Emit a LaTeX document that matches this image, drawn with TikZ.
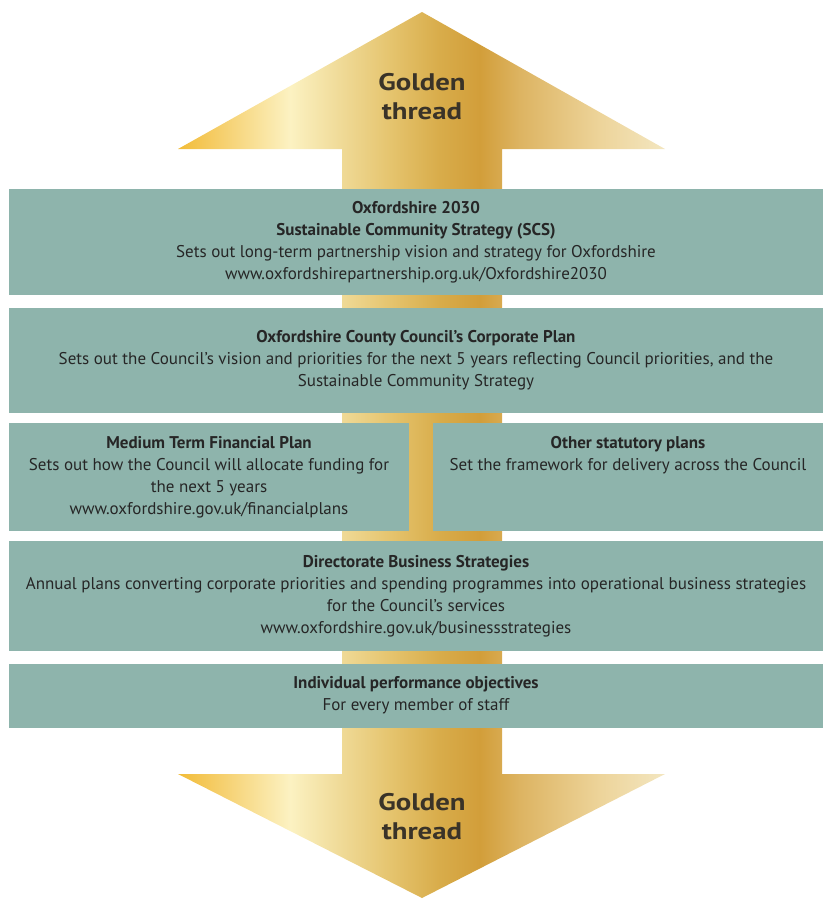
\documentclass[tikz,border=0pt]{standalone}
\usepackage{fontspec}
\setmainfont{PT Sans}
\newfontfamily\threadfont[FakeStretch=1.2]{PT Sans}
\usepackage{tikz}
\usetikzlibrary{calc}
\usepackage{xcolor}

\definecolor{panelfill}{HTML}{8EB4AC}
\definecolor{paneltext}{HTML}{262626}
\definecolor{threadtext}{HTML}{3A3328}
\definecolor{gA}{HTML}{F2BC38}
\definecolor{gB}{HTML}{F6D274}
\definecolor{gC}{HTML}{FCF2C2}
\definecolor{gD}{HTML}{F2DFA0}
\definecolor{gE}{HTML}{E5C46E}
\definecolor{gF}{HTML}{D8AC4A}
\definecolor{gG}{HTML}{D29E3A}
\definecolor{gH}{HTML}{DDB462}
\definecolor{gI}{HTML}{EDD49A}
\definecolor{gJ}{HTML}{F3E6C0}

\pgfdeclarehorizontalshading{goldthread}{100bp}{color(0bp)=(gA); color(25bp)=(gA);
  color(30bp)=(gB); color(36.5bp)=(gC); color(40.6bp)=(gD); color(46.8bp)=(gE);
  color(51.9bp)=(gF); color(56bp)=(gG); color(60.1bp)=(gH); color(68.3bp)=(gI);
  color(75bp)=(gJ); color(100bp)=(gJ)}

\begin{document}
\begin{tikzpicture}[x=1pt,y=-1pt,
panel/.style={fill=panelfill,inner sep=4pt,align=center,text=paneltext,
  font=\fontsize{17}{22}\selectfont},
thread/.style={align=center,text=threadtext,font=\threadfont\bfseries\fontsize{24}{29}\selectfont}]
\useasboundingbox (0,0) rectangle (823,905);

% the golden thread, one arrow pointing both ways
\shade[shading=goldthread] (422,12) -- (665,149) -- (502,149) -- (502,774)
  -- (665,774) -- (422,898) -- (178,774) -- (342,774) -- (342,149)
  -- (178,149) -- cycle;

\node[thread] (up) at (422,97) {Golden\\thread};
\node[thread] (down) at (422,817) {Golden\\thread};

\node[panel,minimum width=814pt,minimum height=106pt] (scs) at (416,242)
  {\textbf{Oxfordshire 2030}\\
   \textbf{Sustainable Community Strategy (SCS)}\\
   Sets out long-term partnership vision and strategy for Oxfordshire\\
   www.oxfordshirepartnership.org.uk/Oxfordshire2030};

\node[panel,minimum width=814pt,minimum height=105pt] (corp) at (416,360.5)
  {\textbf{Oxfordshire County Council’s Corporate Plan}\\
   Sets out the Council’s vision and priorities for the next 5 years reflecting Council priorities, and the\\
   Sustainable Community Strategy};

% middle row: text hangs from the top of each box
\node[panel,minimum width=400pt,text height=87pt,text depth=13pt] (mtfp) at (209,477)
  {\textbf{Medium Term Financial Plan}\\
   Sets out how the Council will allocate funding for\\
   the next 5 years\\
   www.oxfordshire.gov.uk/financialplans};

\node[panel,minimum width=390pt,text height=43pt,text depth=57pt] (other) at (628,477)
  {\textbf{Other statutory plans}\\
   Set the framework for delivery across the Council};

\node[panel,minimum width=814pt,minimum height=110pt] (dbs) at (416,596)
  {\textbf{Directorate Business Strategies}\\
   Annual plans converting corporate priorities and spending programmes into operational business strategies\\
   for the Council’s services\\
   www.oxfordshire.gov.uk/businessstrategies};

\node[panel,minimum width=814pt,minimum height=64pt] (ipo) at (416,695.5)
  {\textbf{Individual performance objectives}\\
   For every member of staff};
\end{tikzpicture}
\end{document}
